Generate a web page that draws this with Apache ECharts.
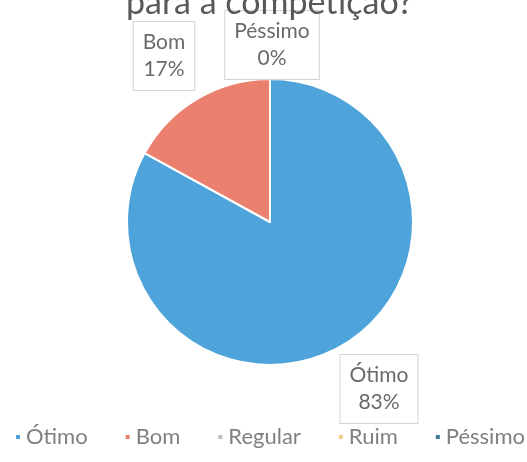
<!DOCTYPE html>
<html>
<head>
<meta charset="utf-8">
<script src="https://cdn.jsdelivr.net/npm/echarts@6/dist/echarts.min.js"></script>
<style>
  html, body { margin: 0; padding: 0; background: #fff; }
  #chart { width: 527px; height: 462px; }
</style>
</head>
<body>
<div id="chart"></div>
<script>
const categories = ['Ótimo', 'Bom', 'Regular', 'Ruim', 'Péssimo']
const values = [83, 17, 0, 0, 0]
const colors = ['#4EA3DA', '#EC806F', '#BDBDBD', '#F3C98C', '#41789F']
// which slices carry a data label in the original
const showLabel = [true, true, false, false, true]
// label box centres (px)
const labelPos = [[379, 389], [164, 56], null, null, [272, 45]]

const chart = echarts.init(document.getElementById('chart'))

chart.setOption({
  backgroundColor: '#fff',
  animation: false,
  title: {
    text: 'para a competição?',
    left: 126,
    top: -14,
    padding: 0,
    textStyle: {
      fontFamily: 'Lato',
      fontWeight: 'normal',
      fontSize: 34,
      color: '#595959'
    }
  },
  legend: {
    top: 426,
    left: 14,
    width: 513,
    padding: 0,
    itemWidth: 6,
    itemHeight: 6,
    itemGap: 36,
    icon: 'rect',
    data: categories,
    textStyle: {
      fontFamily: 'Lato',
      fontSize: 22,
      color: '#808080'
    }
  },
  series: [{
    type: 'pie',
    center: [270, 222],
    radius: 143,
    startAngle: 90,
    clockwise: true,
    avoidLabelOverlap: false,
    itemStyle: { borderColor: '#fff', borderWidth: 2 },
    labelLine: { show: false },
    label: {
      position: 'outside',
      formatter: p => p.name + '\n' + Math.round(p.percent) + '%',
      fontFamily: 'Lato',
      fontSize: 21,
      lineHeight: 27,
      color: '#6a6a6a',
      align: 'center',
      verticalAlign: 'middle',
      backgroundColor: '#fff',
      borderColor: '#D4D4D4',
      borderWidth: 1,
      padding: [7, 9, 7, 9]
    },
    labelLayout: params => {
      const pos = labelPos[params.dataIndex]
      return pos ? { x: pos[0], y: pos[1], align: 'center', verticalAlign: 'middle' } : {}
    },
    data: categories.map((name, i) => ({
      name,
      value: values[i],
      itemStyle: { color: colors[i] },
      label: { show: showLabel[i] }
    }))
  }]
})
</script>
</body>
</html>
